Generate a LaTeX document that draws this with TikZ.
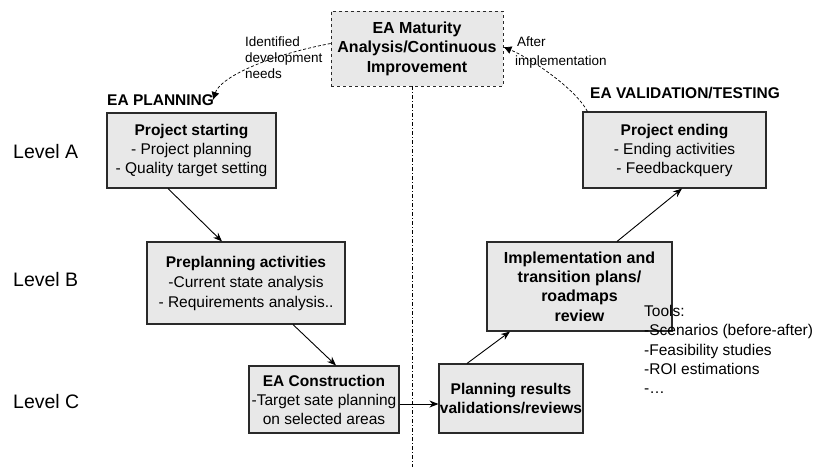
\documentclass[tikz,border=0pt]{standalone}
\usepackage{fontspec}
\setmainfont{Liberation Sans}
\usetikzlibrary{arrows.meta,calc}
\definecolor{boxfill}{HTML}{E8E8E8}
\definecolor{boxline}{HTML}{2A2A2A}
\begin{document}
\begin{tikzpicture}[x=1pt,y=-1pt,
  box/.style={draw=boxline,line width=1.1pt,fill=boxfill,align=center,inner sep=0pt,
    font=\fontsize{15.5}{19}\selectfont},
  lvl/.style={anchor=west,inner sep=0pt,font=\fontsize{19.5}{22}\selectfont},
  hdr/.style={anchor=west,inner sep=0pt,font=\fontsize{15.5}{19}\selectfont\bfseries},
  lbl/.style={anchor=west,inner sep=0pt,align=left,font=\fontsize{13.5}{16}\selectfont},
  arr/.style={line width=0.9pt,-{Stealth[length=9pt,width=7pt]}},
  darr/.style={line width=0.7pt,dash pattern=on 3pt off 2pt,-{Latex[length=8pt,width=8pt]}}
]
\useasboundingbox (0,0) rectangle (818,467);

% vertical dash-dot separator
\coordinate (vtop) at (412,86);
\coordinate (vbot) at (412,467);
\draw[line width=0.8pt,dash pattern=on 4pt off 2pt on 1pt off 2pt] (vtop) -- (vbot);

% boxes
\node[box,dashed,line width=0.9pt,minimum width=172pt,minimum height=75pt,font=\fontsize{16}{19.5}\selectfont\bfseries]
  (mat) at (417,48.5) {EA Maturity\\Analysis/Continuous\\Improvement};
\node[box,minimum width=169pt,minimum height=75pt] (ps) at (191.5,150.5)
  {\textbf{Project starting}\\- Project planning\\- Quality target setting};
\node[box,minimum width=198pt,minimum height=82pt,font=\fontsize{15.5}{20}\selectfont] (pre) at (246,283)
  {\textbf{Preplanning activities}\\-Current state analysis\\- Requirements analysis..};
\node[box,minimum width=150pt,minimum height=67pt] (con) at (324,399.5)
  {\textbf{EA Construction}\\-Target sate planning\\on selected areas};
\node[box,minimum width=144pt,minimum height=69pt,font=\fontsize{15.5}{18.5}\selectfont\bfseries] (pr) at (511,398.5)
  {Planning results\\validations/reviews};
\node[box,minimum width=185pt,minimum height=89pt,font=\fontsize{16}{19.3}\selectfont\bfseries] (imp) at (579.5,286.5)
  {Implementation and\\transition plans/\\roadmaps\\review};
\node[box,minimum width=183pt,minimum height=76pt] (pe) at (674.5,150)
  {\textbf{Project ending}\\- Ending activities\\- Feedbackquery};

% level labels
\node[lvl] (la) at (13,152) {Level A};
\node[lvl] (lb) at (13,280) {Level B};
\node[lvl] (lc) at (13,402) {Level C};

% headers
\node[hdr] (hplan) at (107,100) {EA PLANNING};
\node[hdr] (hval) at (590,93) {EA VALIDATION/TESTING};

% tools
\node[anchor=west,inner sep=0pt,align=left,font=\fontsize{15.5}{19.2}\selectfont] (tools) at (644,349.5)
  {Tools:\\-Scenarios (before-after)\\-Feasibility studies\\-ROI estimations\\-\dots};

% solid arrows
\draw[arr] ([xshift=-23.5pt]ps.south) -- ([xshift=-24pt]pre.north);
\draw[arr] ([xshift=47pt]pre.south) -- ([xshift=12pt]con.north);
\draw[arr] ([yshift=-4.5pt]con.east) coordinate (c3) -- (c3 -| pr.west);
\draw[arr] ([xshift=-44pt]pr.north) -- ([xshift=-69.5pt]imp.south);
\draw[arr] ([xshift=37.5pt]imp.north) -- ([xshift=7.5pt]pe.south);

% dashed curved arrows
\coordinate (lend) at (213,100);
\draw[darr] ([yshift=5pt]mat.west) .. controls (265,56) and (220,78) .. (lend);
\draw[darr] ([xshift=5pt]pe.north west) .. controls (575,88) and (530,58) .. ([yshift=1.5pt]mat.east);

% curve labels
\node[lbl] (lid) at (245,58) {Identified\\development\\needs};
\node[lbl,font=\fontsize{13.5}{18.4}\selectfont] (lafter) at (515,52.5) {\hspace*{2pt}After\\implementation};
\end{tikzpicture}
\end{document}
